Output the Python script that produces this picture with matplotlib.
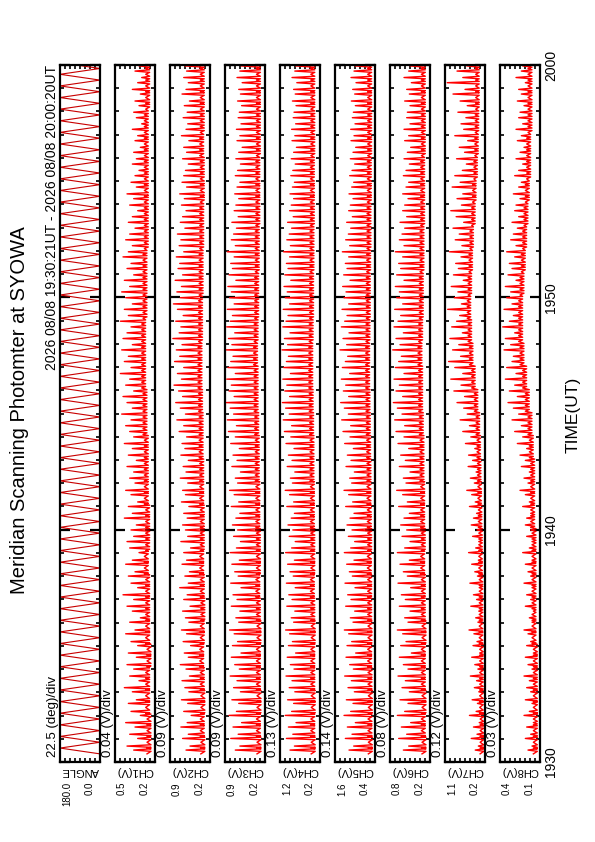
import numpy as np
import matplotlib.pyplot as plt

plt.rcParams['font.family'] = ['Liberation Sans', 'DejaVu Sans']

# time axis: minutes after 19:30 UT
time_ticks = [0, 10, 20, 30]
time_labels = ['1930', '1940', '1950', '2000']
t_start = 21 / 60      # first sample 19:30:21
sweep = 0.25           # one sweep 0 -> 180 deg (or back) = 15 s
spike_half = 0.22      # half width of an auroral spike, fraction of a sweep

# scanner end positions (deg), sweeps alternate between them
scan_ends = [0.0, 180.0]

# scan angle of the brightest aurora, one value per minute (deg)
arc_angle = [118, 112, 124, 108, 115, 121, 104, 110, 117, 99,
             106, 113, 95, 102, 90, 86, 93, 81, 88, 96,
             84, 79, 91, 87, 74, 82, 77, 85, 72, 80]

# extra brightness towards the horizon, one value per channel CH1..CH8 (V)
horizon_extra = [0.03, 0.07, 0.07, 0.10, 0.12, 0.06, 0.08, 0.03]

# per-minute background level and per-sweep peak of each channel (V)
ch1_base = [0.23, 0.23, 0.24, 0.24, 0.23, 0.24, 0.24, 0.24, 0.25, 0.24,
            0.24, 0.25, 0.25, 0.25, 0.26, 0.26, 0.27, 0.27, 0.27, 0.26,
            0.26, 0.26, 0.25, 0.25, 0.25, 0.25, 0.25, 0.25, 0.24, 0.24]
ch1_peak = [0.36, 0.41, 0.33, 0.39, 0.35, 0.42, 0.31, 0.38, 0.40, 0.34,
            0.37, 0.43, 0.32, 0.39, 0.36, 0.41, 0.34, 0.40, 0.33, 0.38,
            0.42, 0.35, 0.39, 0.31, 0.37, 0.41, 0.36, 0.44, 0.33, 0.38,
            0.40, 0.35, 0.42, 0.37, 0.32, 0.39, 0.41, 0.36, 0.38, 0.34,
            0.43, 0.37, 0.40, 0.33, 0.38, 0.42, 0.35, 0.39, 0.36, 0.41,
            0.34, 0.40, 0.37, 0.43, 0.36, 0.39, 0.42, 0.38, 0.45, 0.37,
            0.41, 0.44, 0.36, 0.42, 0.39, 0.46, 0.38, 0.43, 0.40, 0.45,
            0.37, 0.44, 0.41, 0.38, 0.46, 0.40, 0.43, 0.37, 0.42, 0.45,
            0.39, 0.43, 0.36, 0.41, 0.38, 0.44, 0.40, 0.37, 0.42, 0.39,
            0.35, 0.40, 0.37, 0.33, 0.39, 0.36, 0.41, 0.34, 0.38, 0.35,
            0.32, 0.37, 0.34, 0.36, 0.31, 0.35, 0.33, 0.37, 0.30, 0.34,
            0.36, 0.32, 0.35, 0.31, 0.37, 0.33, 0.30, 0.35, 0.32, 0.34]

ch2_base = [0.29, 0.30, 0.29, 0.30, 0.31, 0.30, 0.29, 0.30, 0.31, 0.30,
            0.30, 0.31, 0.31, 0.32, 0.32, 0.33, 0.34, 0.34, 0.33, 0.33,
            0.32, 0.32, 0.31, 0.31, 0.30, 0.30, 0.31, 0.30, 0.30, 0.30]
ch2_peak = [0.62, 0.55, 0.68, 0.58, 0.71, 0.60, 0.53, 0.66, 0.59, 0.70,
            0.57, 0.64, 0.69, 0.56, 0.62, 0.72, 0.58, 0.65, 0.54, 0.67,
            0.61, 0.70, 0.57, 0.63, 0.68, 0.55, 0.66, 0.60, 0.73, 0.58,
            0.64, 0.56, 0.69, 0.61, 0.66, 0.54, 0.71, 0.59, 0.63, 0.68,
            0.60, 0.66, 0.57, 0.70, 0.63, 0.68, 0.59, 0.72, 0.62, 0.67,
            0.58, 0.71, 0.64, 0.69, 0.61, 0.74, 0.66, 0.78, 0.63, 0.72,
            0.80, 0.68, 0.75, 0.83, 0.70, 0.77, 0.66, 0.82, 0.73, 0.79,
            0.69, 0.85, 0.74, 0.71, 0.80, 0.67, 0.77, 0.84, 0.72, 0.78,
            0.70, 0.81, 0.68, 0.76, 0.73, 0.79, 0.66, 0.74, 0.71, 0.77,
            0.64, 0.72, 0.68, 0.62, 0.70, 0.65, 0.73, 0.61, 0.69, 0.66,
            0.63, 0.58, 0.68, 0.61, 0.66, 0.57, 0.70, 0.62, 0.59, 0.67,
            0.60, 0.65, 0.56, 0.69, 0.62, 0.58, 0.66, 0.61, 0.64, 0.59]

ch3_base = [0.27, 0.28, 0.27, 0.28, 0.28, 0.27, 0.28, 0.29, 0.28, 0.28,
            0.29, 0.29, 0.30, 0.30, 0.31, 0.32, 0.32, 0.33, 0.32, 0.31,
            0.31, 0.30, 0.30, 0.29, 0.29, 0.29, 0.28, 0.28, 0.28, 0.28]
ch3_peak = [0.72, 0.64, 0.80, 0.67, 0.76, 0.61, 0.83, 0.70, 0.66, 0.78,
            0.63, 0.75, 0.69, 0.81, 0.65, 0.73, 0.79, 0.62, 0.77, 0.68,
            0.74, 0.82, 0.66, 0.71, 0.64, 0.79, 0.69, 0.76, 0.62, 0.80,
            0.67, 0.73, 0.78, 0.65, 0.81, 0.70, 0.63, 0.75, 0.68, 0.77,
            0.71, 0.64, 0.79, 0.66, 0.74, 0.82, 0.68, 0.72, 0.63, 0.78,
            0.69, 0.76, 0.65, 0.80, 0.72, 0.84, 0.70, 0.86, 0.75, 0.81,
            0.88, 0.74, 0.83, 0.79, 0.87, 0.72, 0.85, 0.80, 0.76, 0.88,
            0.78, 0.84, 0.73, 0.87, 0.81, 0.77, 0.86, 0.74, 0.82, 0.79,
            0.85, 0.71, 0.83, 0.77, 0.80, 0.74, 0.86, 0.72, 0.79, 0.75,
            0.70, 0.78, 0.67, 0.74, 0.71, 0.66, 0.73, 0.69, 0.64, 0.72,
            0.68, 0.63, 0.71, 0.66, 0.60, 0.69, 0.64, 0.70, 0.62, 0.67,
            0.65, 0.61, 0.68, 0.63, 0.66, 0.60, 0.69, 0.64, 0.62, 0.67]

ch4_base = [0.32, 0.33, 0.32, 0.33, 0.33, 0.32, 0.33, 0.34, 0.33, 0.33,
            0.34, 0.34, 0.35, 0.35, 0.36, 0.37, 0.38, 0.38, 0.37, 0.36,
            0.36, 0.35, 0.35, 0.34, 0.34, 0.34, 0.33, 0.33, 0.33, 0.33]
ch4_peak = [0.95, 0.84, 1.04, 0.88, 0.99, 0.80, 1.07, 0.91, 0.86, 1.01,
            0.83, 0.97, 0.90, 1.05, 0.85, 0.94, 1.02, 0.81, 0.99, 0.89,
            0.96, 1.06, 0.86, 0.92, 0.83, 1.03, 0.90, 0.98, 0.82, 1.04,
            0.87, 0.95, 1.01, 0.84, 1.06, 0.91, 0.82, 0.97, 0.88, 1.00,
            0.92, 0.84, 1.03, 0.86, 0.96, 1.07, 0.89, 0.94, 0.83, 1.02,
            0.90, 0.99, 0.85, 1.05, 0.93, 1.09, 0.91, 1.12, 0.97, 1.06,
            1.14, 0.96, 1.08, 1.03, 1.13, 0.94, 1.11, 1.04, 0.99, 1.15,
            1.01, 1.09, 0.95, 1.13, 1.05, 1.00, 1.12, 0.96, 1.07, 1.02,
            1.10, 0.93, 1.08, 1.00, 1.04, 0.96, 1.11, 0.94, 1.03, 0.97,
            0.91, 1.01, 0.87, 0.96, 0.92, 0.86, 0.95, 0.89, 0.84, 0.93,
            0.88, 0.82, 0.92, 0.86, 0.79, 0.90, 0.83, 0.91, 0.81, 0.87,
            0.85, 0.80, 0.89, 0.82, 0.86, 0.78, 0.90, 0.83, 0.81, 0.87]

ch5_base = [0.48, 0.49, 0.48, 0.49, 0.50, 0.49, 0.50, 0.50, 0.51, 0.50,
            0.51, 0.52, 0.52, 0.53, 0.54, 0.55, 0.56, 0.56, 0.55, 0.54,
            0.54, 0.53, 0.52, 0.52, 0.51, 0.51, 0.50, 0.50, 0.50, 0.50]
ch5_peak = [1.18, 1.04, 1.29, 1.09, 1.23, 0.99, 1.33, 1.13, 1.06, 1.26,
            1.02, 1.21, 1.11, 1.31, 1.05, 1.16, 1.27, 0.98, 1.24, 1.10,
            1.19, 1.32, 1.06, 1.14, 1.01, 1.28, 1.12, 1.22, 1.00, 1.30,
            1.08, 1.17, 1.25, 1.03, 1.32, 1.13, 1.01, 1.20, 1.09, 1.24,
            1.15, 1.03, 1.28, 1.07, 1.19, 1.33, 1.10, 1.16, 1.02, 1.27,
            1.12, 1.23, 1.05, 1.31, 1.15, 1.36, 1.13, 1.40, 1.20, 1.32,
            1.43, 1.19, 1.35, 1.28, 1.41, 1.16, 1.38, 1.29, 1.22, 1.45,
            1.25, 1.36, 1.18, 1.41, 1.31, 1.24, 1.39, 1.19, 1.33, 1.27,
            1.37, 1.15, 1.34, 1.24, 1.29, 1.19, 1.38, 1.16, 1.28, 1.20,
            1.13, 1.25, 1.08, 1.19, 1.14, 1.06, 1.18, 1.10, 1.04, 1.16,
            1.09, 1.01, 1.14, 1.06, 0.98, 1.12, 1.03, 1.13, 1.00, 1.08,
            1.05, 0.99, 1.11, 1.01, 1.07, 0.97, 1.12, 1.03, 1.00, 1.08]

ch6_base = [0.26, 0.27, 0.26, 0.27, 0.27, 0.26, 0.27, 0.27, 0.28, 0.27,
            0.28, 0.28, 0.29, 0.29, 0.30, 0.31, 0.31, 0.32, 0.31, 0.30,
            0.30, 0.29, 0.29, 0.28, 0.28, 0.28, 0.27, 0.27, 0.27, 0.27]
ch6_peak = [0.60, 0.52, 0.67, 0.55, 0.63, 0.49, 0.69, 0.58, 0.53, 0.65,
            0.51, 0.62, 0.57, 0.68, 0.53, 0.60, 0.66, 0.48, 0.64, 0.56,
            0.61, 0.69, 0.53, 0.58, 0.50, 0.66, 0.57, 0.63, 0.49, 0.68,
            0.54, 0.60, 0.65, 0.51, 0.69, 0.58, 0.50, 0.62, 0.55, 0.64,
            0.59, 0.51, 0.67, 0.54, 0.61, 0.70, 0.56, 0.60, 0.50, 0.66,
            0.57, 0.64, 0.52, 0.68, 0.59, 0.71, 0.58, 0.73, 0.62, 0.69,
            0.75, 0.61, 0.71, 0.66, 0.74, 0.59, 0.72, 0.67, 0.63, 0.76,
            0.65, 0.71, 0.60, 0.74, 0.68, 0.64, 0.73, 0.61, 0.70, 0.66,
            0.72, 0.59, 0.70, 0.64, 0.67, 0.61, 0.72, 0.59, 0.66, 0.62,
            0.58, 0.65, 0.55, 0.61, 0.58, 0.53, 0.61, 0.56, 0.52, 0.60,
            0.56, 0.51, 0.59, 0.54, 0.49, 0.58, 0.52, 0.59, 0.50, 0.55,
            0.54, 0.50, 0.58, 0.51, 0.55, 0.48, 0.59, 0.52, 0.50, 0.56]

ch7_base = [0.23, 0.23, 0.24, 0.24, 0.24, 0.25, 0.25, 0.25, 0.26, 0.26,
            0.27, 0.28, 0.29, 0.30, 0.32, 0.36, 0.42, 0.47, 0.50, 0.52,
            0.50, 0.48, 0.46, 0.42, 0.40, 0.37, 0.35, 0.34, 0.33, 0.33]
ch7_peak = [0.42, 0.35, 0.51, 0.38, 0.46, 0.33, 0.55, 0.40, 0.37, 0.49,
            0.34, 0.44, 0.39, 0.53, 0.36, 0.43, 0.50, 0.32, 0.47, 0.38,
            0.45, 0.56, 0.36, 0.41, 0.34, 0.52, 0.39, 0.46, 0.33, 0.54,
            0.37, 0.43, 0.50, 0.35, 0.57, 0.41, 0.34, 0.48, 0.38, 0.51,
            0.46, 0.39, 0.55, 0.42, 0.50, 0.61, 0.44, 0.53, 0.40, 0.58,
            0.48, 0.57, 0.43, 0.64, 0.52, 0.70, 0.55, 0.76, 0.60, 0.68,
            0.83, 0.66, 0.90, 0.74, 0.97, 0.70, 0.88, 1.02, 0.75, 0.93,
            0.79, 0.99, 0.71, 0.95, 0.84, 0.77, 1.04, 0.73, 0.89, 0.81,
            0.96, 0.69, 0.91, 0.80, 0.86, 0.74, 1.00, 0.72, 0.87, 0.78,
            0.92, 0.68, 0.85, 0.97, 0.73, 0.83, 0.70, 0.94, 0.76, 0.88,
            0.71, 0.62, 0.84, 0.66, 0.78, 0.59, 0.88, 0.68, 0.74, 0.63,
            0.81, 0.60, 0.76, 0.92, 0.65, 1.05, 0.70, 0.83, 0.61, 0.77]

ch8_base = [0.12, 0.12, 0.12, 0.12, 0.12, 0.13, 0.13, 0.13, 0.13, 0.13,
            0.14, 0.14, 0.14, 0.15, 0.16, 0.18, 0.20, 0.22, 0.23, 0.23,
            0.22, 0.21, 0.20, 0.19, 0.18, 0.17, 0.17, 0.16, 0.16, 0.16]
ch8_peak = [0.19, 0.16, 0.21, 0.17, 0.20, 0.15, 0.22, 0.18, 0.16, 0.21,
            0.17, 0.20, 0.18, 0.22, 0.16, 0.19, 0.21, 0.15, 0.20, 0.17,
            0.19, 0.22, 0.16, 0.18, 0.15, 0.21, 0.17, 0.20, 0.16, 0.22,
            0.17, 0.19, 0.21, 0.16, 0.23, 0.18, 0.16, 0.20, 0.17, 0.21,
            0.20, 0.17, 0.23, 0.18, 0.21, 0.25, 0.19, 0.22, 0.18, 0.24,
            0.21, 0.25, 0.20, 0.27, 0.23, 0.29, 0.24, 0.31, 0.26, 0.30,
            0.34, 0.27, 0.33, 0.29, 0.36, 0.28, 0.35, 0.31, 0.30, 0.37,
            0.32, 0.36, 0.29, 0.38, 0.33, 0.30, 0.37, 0.31, 0.35, 0.32,
            0.36, 0.28, 0.34, 0.31, 0.33, 0.29, 0.35, 0.28, 0.32, 0.30,
            0.27, 0.31, 0.26, 0.29, 0.28, 0.25, 0.30, 0.26, 0.24, 0.29,
            0.26, 0.23, 0.28, 0.25, 0.22, 0.27, 0.24, 0.28, 0.23, 0.26,
            0.25, 0.22, 0.27, 0.24, 0.26, 0.21, 0.28, 0.24, 0.23, 0.27]

# panel name, axis value at the left (top of scale), at the right, scale note
names = ['ANGLE', 'CH1(V)', 'CH2(V)', 'CH3(V)', 'CH4(V)',
         'CH5(V)', 'CH6(V)', 'CH7(V)', 'CH8(V)']
top_vals = ['180.0', '0.5', '0.9', '0.9', '1.2', '1.6', '0.8', '1.1', '0.4']
bot_vals = ['0.0', '0.2', '0.2', '0.2', '0.2', '0.4', '0.2', '0.2', '0.1']
div_notes = ['22.5 (deg)/div', '0.04 (V)/div', '0.09 (V)/div', '0.09 (V)/div',
             '0.13 (V)/div', '0.14 (V)/div', '0.08 (V)/div', '0.12 (V)/div',
             '0.03 (V)/div']

n_sweep = len(ch1_peak)
t_turn = t_start + sweep * np.arange(n_sweep + 1)
minute_idx = np.minimum(t_turn[:-1].astype(int), 29)
ends = np.array(scan_ends)[np.arange(n_sweep + 1) % 2]

# where the auroral arc is crossed inside each sweep (fraction of the sweep)
frac = np.array(arc_angle)[minute_idx] / 180.0
frac = np.where(np.arange(n_sweep) % 2 == 0, frac, 1 - frac)
frac = np.clip(frac, spike_half, 1 - spike_half)
t_rise = t_turn[:-1] + (frac - spike_half) * sweep
t_tip = t_turn[:-1] + frac * sweep
t_fall = t_turn[:-1] + (frac + spike_half) * sweep
t_chan = np.append(np.column_stack([t_turn[:-1], t_rise, t_tip, t_fall]).ravel(),
                   t_turn[-1])


def channel_series(base, peak, extra):
    b = np.asarray(base)[minute_idx]
    v = np.column_stack([b + extra, b, np.asarray(peak), b]).ravel()
    return np.append(v, b[-1] + extra)


chans = [(ch1_base, ch1_peak), (ch2_base, ch2_peak), (ch3_base, ch3_peak),
         (ch4_base, ch4_peak), (ch5_base, ch5_peak), (ch6_base, ch6_peak),
         (ch7_base, ch7_peak), (ch8_base, ch8_peak)]
series = [(ends, t_turn)]
for (b, p), h in zip(chans, horizon_extra):
    series.append((channel_series(b, p, h), t_chan))

W, H = 595, 842
fig = plt.figure(figsize=(W / 100, H / 100), dpi=100)

top_px, bot_px = 65, 762
for i, name in enumerate(names):
    left_px = 60 + 55 * i
    ax = fig.add_axes([left_px / W, 1 - bot_px / H, 40 / W, (bot_px - top_px) / H])
    lo, hi = float(bot_vals[i]), float(top_vals[i])
    v, t = series[i]
    if i == 0:
        ax.plot(v, t, color='#c80000', lw=0.8)
    else:
        ax.plot(v, t, color='red', lw=1.0)
    ax.set_xlim(hi, lo)
    ax.set_ylim(0, 30)
    ax.set_xticks(np.linspace(lo, hi, 9))
    ax.set_yticks(time_ticks)
    ax.set_yticks(np.arange(0, 31), minor=True)
    ax.tick_params(which='both', direction='in', top=True, bottom=True,
                   left=True, right=True, labelbottom=False, labelleft=False,
                   width=1.2, color='black')
    ax.tick_params(axis='y', which='major', length=7, width=1.6)
    ax.tick_params(axis='y', which='minor', length=3)
    ax.tick_params(axis='x', which='major', length=3)
    for s in ax.spines.values():
        s.set_linewidth(1.6)

    ax.text(7 / 40, -20 / 697, top_vals[i], transform=ax.transAxes,
            rotation=90, ha='center', va='top', fontsize=7)
    ax.text(30 / 40, -20 / 697, bot_vals[i], transform=ax.transAxes,
            rotation=90, ha='center', va='top', fontsize=7)
    ax.text(0.5, -9 / 697, name, transform=ax.transAxes,
            rotation=180, ha='center', va='center', fontsize=8)
    ax.text(-7 / 40, 5 / 697, div_notes[i], transform=ax.transAxes,
            rotation=90, ha='center', va='bottom', fontsize=9.5)

    if i == len(names) - 1:
        for tv, tl in zip(time_ticks, time_labels):
            ax.text(1.28, tv, tl, transform=ax.get_yaxis_transform(),
                    rotation=90, ha='center', va='center', fontsize=10)

fig.text(20 / W, 1 - 410 / H, 'Meridian Scanning Photomter at SYOWA',
         rotation=90, ha='center', va='center', fontsize=14.5)
fig.text(52.5 / W, 1 - 65 / H, '2026 08/08 19:30:21UT - 2026 08/08 20:00:20UT',
         rotation=90, ha='center', va='top', fontsize=10)
fig.text(573 / W, 1 - 415 / H, 'TIME(UT)', rotation=90, ha='center',
         va='center', fontsize=12.5)

fig.savefig('out.png', dpi=100)
